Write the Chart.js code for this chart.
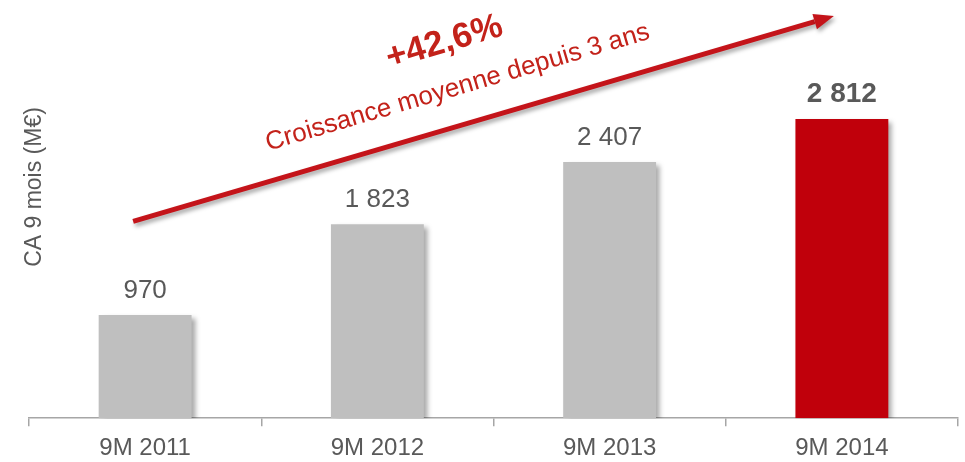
<!DOCTYPE html>
<html>
<head>
<meta charset="utf-8">
<script src="https://cdn.jsdelivr.net/npm/chart.js@4/dist/chart.umd.min.js"></script>
<style>
  body { margin: 0; background: #fff; }
  #wrap { width: 965px; height: 462px; }
</style>
</head>
<body>
<div id="wrap"><canvas id="caChart"></canvas></div>
<script>
// data
var periods = ['9M 2011', '9M 2012', '9M 2013', '9M 2014'];
var caValues = [970, 1823, 2407, 2812];
var valueLabels = ['970', '1 823', '2 407', '2 812'];
var barColors = ['#bfbfbf', '#bfbfbf', '#bfbfbf', '#c0000b'];
var growthLabel = '+42,6%';
var growthText = 'Croissance moyenne depuis 3 ans';
var yTitle = 'CA 9 mois (M€)';

var grey = '#595959';
var red = '#c4141a';

// shadow under bars
var barShadow = {
    id: 'barShadow',
    beforeDatasetsDraw: function (chart) {
        var ctx = chart.ctx;
        ctx.save();
        ctx.shadowColor = 'rgba(0,0,0,0.35)';
        ctx.shadowBlur = 5;
        ctx.shadowOffsetX = 4;
        ctx.shadowOffsetY = 3;
    },
    afterDatasetsDraw: function (chart) {
        chart.ctx.restore();
    }
};

// value labels, y title, growth arrow
var extras = {
    id: 'extras',
    afterDraw: function (chart) {
        var ctx = chart.ctx;
        var x = chart.scales.x, y = chart.scales.y;
        var bars = chart.getDatasetMeta(0).data;

        ctx.save();
        ctx.fillStyle = grey;
        ctx.textAlign = 'center';
        ctx.textBaseline = 'alphabetic';
        bars.forEach(function (b, i) {
            var last = i === bars.length - 1;
            ctx.font = last ? 'bold 28px "Liberation Sans"' : '26px "Liberation Sans"';
            ctx.fillText(valueLabels[i], b.x, b.y - 17);
        });

        // y axis title
        ctx.save();
        ctx.translate(35, 187);
        ctx.rotate(-Math.PI / 2);
        ctx.font = '23px "Liberation Sans"';
        ctx.textBaseline = 'middle';
        ctx.fillText(yTitle, 0, 0);
        ctx.restore();

        // arrow
        var x0 = x.getPixelForValue(0) - 12, y0 = y.getPixelForValue(1850);
        var x1 = x.getPixelForValue(3) - 8, y1 = y.getPixelForValue(3780);
        var ang = Math.atan2(y1 - y0, x1 - x0);
        var head = 20, hw = 8;
        ctx.save();
        ctx.shadowColor = 'rgba(0,0,0,0.35)';
        ctx.shadowBlur = 4;
        ctx.shadowOffsetX = 2;
        ctx.shadowOffsetY = 3;
        ctx.strokeStyle = red;
        ctx.fillStyle = red;
        ctx.lineWidth = 5;
        ctx.beginPath();
        ctx.moveTo(x0, y0);
        ctx.lineTo(x1 - head * Math.cos(ang), y1 - head * Math.sin(ang));
        ctx.stroke();
        ctx.translate(x1, y1);
        ctx.rotate(ang);
        ctx.beginPath();
        ctx.moveTo(0, 0);
        ctx.lineTo(-head, -hw);
        ctx.lineTo(-head, hw);
        ctx.closePath();
        ctx.fill();
        ctx.restore();

        // texts along the arrow
        var t = 0.478;
        var px = x0 + (x1 - x0) * t, py = y0 + (y1 - y0) * t;
        ctx.save();
        ctx.translate(px, py);
        ctx.rotate(ang);
        ctx.fillStyle = '#c3221a';
        ctx.textBaseline = 'middle';
        ctx.font = 'bold 35px "Liberation Sans"';
        ctx.fillText(growthLabel, 0, -84);
        ctx.font = '26px "Liberation Sans"';
        ctx.fillText(growthText, 0, -37);
        ctx.restore();

        ctx.restore();
    }
};

var ctx = document.getElementById('caChart').getContext('2d');
var caChart = new Chart(ctx, {
    type: 'bar',
    data: {
        labels: periods,
        datasets: [{
            data: caValues,
            backgroundColor: barColors,
            barPercentage: 0.4,
            categoryPercentage: 1
        }]
    },
    options: {
        responsive: true,
        maintainAspectRatio: false,
        animation: false,
        layout: { padding: { left: 29, right: 7, top: 0, bottom: -9 } },
        plugins: { legend: { display: false }, tooltip: { enabled: false } },
        scales: {
            x: {
                grid: { drawOnChartArea: false, drawTicks: true, tickLength: 8, color: '#a6a6a6', lineWidth: 1.5 },
                border: { color: '#a6a6a6', width: 1.5 },
                ticks: { color: grey, font: { family: 'Liberation Sans', size: 24 }, padding: 8 }
            },
            y: { display: false, min: 0, max: 3930 }
        }
    },
    plugins: [barShadow, extras]
});
</script>
</body>
</html>
